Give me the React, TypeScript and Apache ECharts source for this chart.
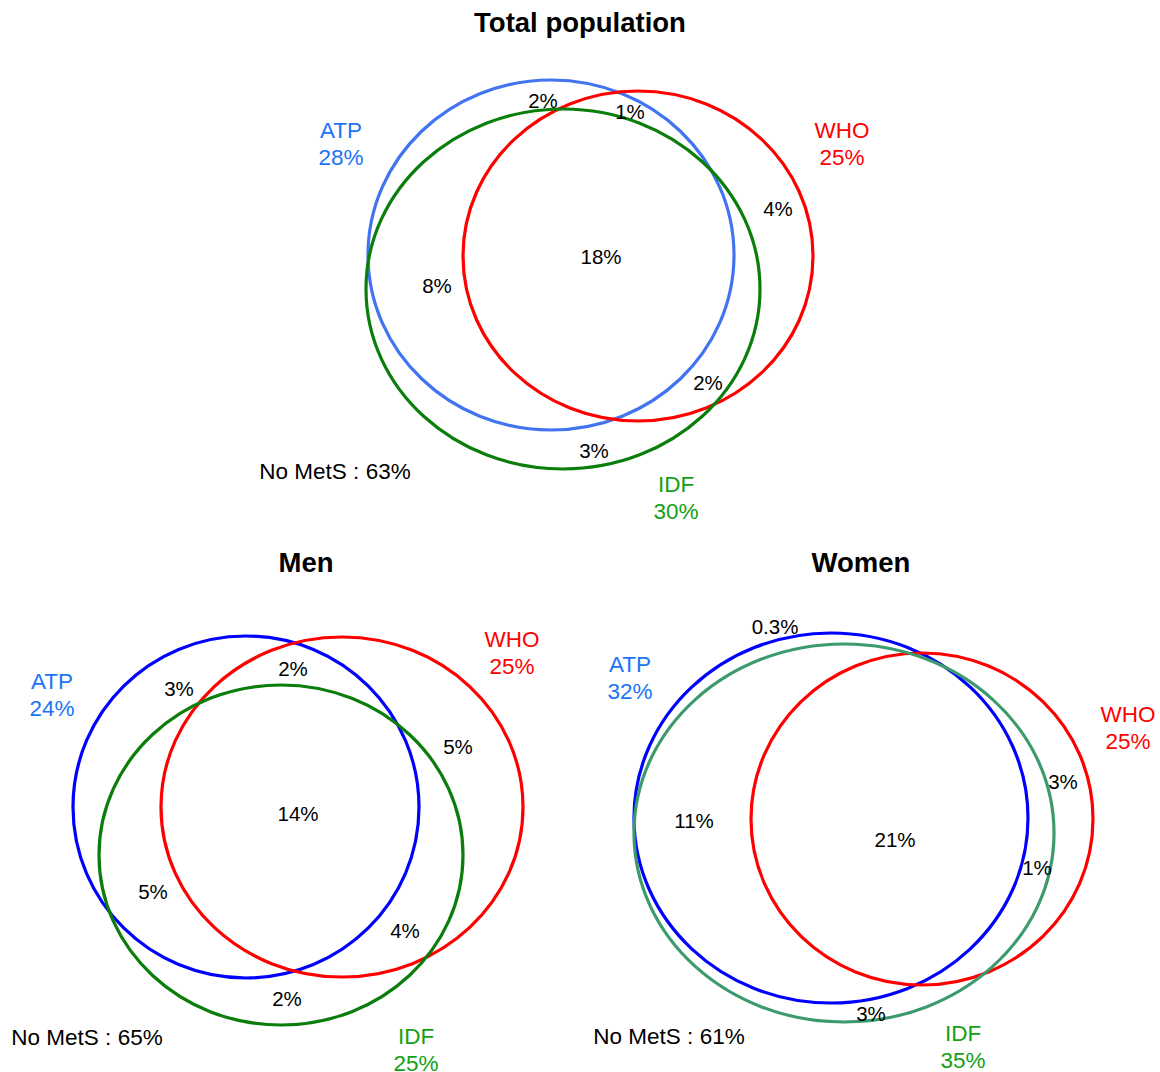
import React, { useEffect, useRef } from "react";
import * as echarts from "echarts";

// ---- values ----
const panelTitles = ["Total population", "Men", "Women"];
const setNames = ["ATP", "WHO", "IDF"];
const setPctTotal = [28, 25, 30];
const setPctMen = [24, 25, 25];
const setPctWomen = [32, 25, 35];
const noMetSPct = [63, 65, 61];
const regionPctTotal = ["2%", "1%", "4%", "18%", "8%", "2%", "3%"];
const regionPctMen = ["3%", "2%", "5%", "14%", "5%", "4%", "2%"];
const regionPctWomen = ["0.3%", "11%", "21%", "3%", "1%", "3%"];

// ---- layout (canvas units, y down) ----
// ellipses: [cx, cy, rx, ry] for ATP, WHO, IDF
const ellipsesTotal = [
  [551, 255, 183, 175],
  [638, 256, 175, 165],
  [563, 289, 197, 180],
];
const ellipsesMen = [
  [246, 807, 173, 171],
  [342, 807, 181, 170],
  [281, 855, 182, 170],
];
const ellipsesWomen = [
  [831, 818, 197, 185],
  [922, 819, 171, 166],
  [844, 833, 210, 189],
];
const regionPosTotal = [[543, 100], [630, 111], [778, 208], [601, 256], [437, 285], [708, 382], [594, 450]];
const regionPosMen = [[179, 688], [293, 668], [458, 746], [298, 813], [153, 891], [405, 930], [287, 998]];
const regionPosWomen = [[775, 626], [694, 820], [895, 839], [1063, 781], [1037, 867], [871, 1013]];
// set label positions (name line centre): ATP, WHO, IDF
const setLabelPosTotal = [[341, 130], [842, 130], [676, 484]];
const setLabelPosMen = [[52, 681], [512, 639], [416, 1036]];
const setLabelPosWomen = [[630, 664], [1128, 714], [963, 1033]];
const noMetSPos = [[335, 471], [87, 1037], [669, 1036]];
const titlePos = [[580, 22], [306, 562], [861, 562]];

const ellipseColors = [
  ["#4274f2", "#ff0000", "#0a7d0a"],
  ["#0000ff", "#ff0000", "#0a7d0a"],
  ["#0000ff", "#ff0000", "#3c9a6c"],
];
const setTextColors = ["#1a74f5", "#ff0000", "#14a014"];

const W = 1160;
const H = 1072;
const FONT = "'Liberation Sans', Arial, Helvetica, sans-serif";

export default function App() {
  const ref = useRef<HTMLDivElement>(null);
  useEffect(() => {
    if (!ref.current) return;
    const chart = echarts.init(ref.current, null, { renderer: "svg" });

    const ellipseGroups = [ellipsesTotal, ellipsesMen, ellipsesWomen];
    const ellipseData: any[] = [];
    ellipseGroups.forEach((g, p) =>
      g.forEach((e, i) => ellipseData.push({ value: [e[0], e[1], e[2], e[3], p, i] }))
    );

    const textData: any[] = [];
    const regionVals = [regionPctTotal, regionPctMen, regionPctWomen];
    const regionPos = [regionPosTotal, regionPosMen, regionPosWomen];
    regionVals.forEach((vals, p) =>
      vals.forEach((v, i) =>
        textData.push({ value: [regionPos[p][i][0], regionPos[p][i][1]], text: v, color: "#000", size: 20.5, weight: "normal" })
      )
    );
    const setPcts = [setPctTotal, setPctMen, setPctWomen];
    const setPos = [setLabelPosTotal, setLabelPosMen, setLabelPosWomen];
    setPcts.forEach((pcts, p) =>
      pcts.forEach((v, i) =>
        textData.push({
          value: [setPos[p][i][0], setPos[p][i][1]],
          text: setNames[i] + "\n" + v + "%",
          color: setTextColors[i],
          size: 22.5,
          weight: "normal",
          lh: 27.5,
          top: true,
        })
      )
    );
    noMetSPct.forEach((v, p) =>
      textData.push({ value: [noMetSPos[p][0], noMetSPos[p][1]], text: "No MetS : " + v + "%", color: "#000", size: 22.5, weight: "normal" })
    );
    panelTitles.forEach((t, p) =>
      textData.push({ value: [titlePos[p][0], titlePos[p][1]], text: t, color: "#000", size: 27.5, weight: "bold" })
    );

    chart.setOption({
      animation: false,
      grid: { left: 0, right: 0, top: 0, bottom: 0 },
      xAxis: { type: "value", min: 0, max: W, show: false },
      yAxis: { type: "value", min: 0, max: H, inverse: true, show: false },
      series: [
        {
          type: "custom",
          coordinateSystem: "cartesian2d",
          data: ellipseData,
          renderItem: (params: any, api: any) => {
            const c = api.coord([api.value(0), api.value(1)]);
            const s = api.size([api.value(2), api.value(3)]);
            const p = api.value(4);
            const i = api.value(5);
            return {
              type: "ellipse",
              shape: { cx: c[0], cy: c[1], rx: s[0], ry: s[1] },
              style: { fill: "none", stroke: ellipseColors[p][i], lineWidth: 3.2 },
            };
          },
        },
        {
          type: "custom",
          coordinateSystem: "cartesian2d",
          data: textData,
          renderItem: (params: any, api: any) => {
            const d = textData[params.dataIndex];
            const c = api.coord([api.value(0), api.value(1)]);
            return {
              type: "text",
              x: c[0],
              y: d.top ? c[1] - (d.lh || 24) / 2 : c[1],
              style: {
                text: d.text,
                fill: d.color,
                fontSize: d.size,
                fontWeight: d.weight,
                fontFamily: FONT,
                align: "center",
                verticalAlign: d.top ? "top" : "middle",
                lineHeight: d.lh || d.size * 1.2,
              },
            };
          },
        },
      ],
    });
    return () => chart.dispose();
  }, []);
  return (
    <div
      ref={ref}
      style={{ position: "fixed", left: 0, top: 0, width: W, height: H, background: "#fff" }}
    />
  );
}
